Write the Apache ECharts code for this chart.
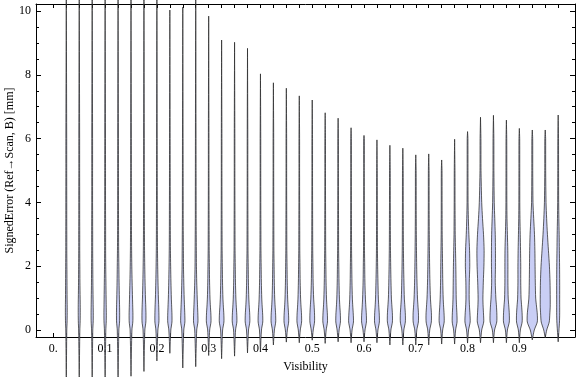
<!DOCTYPE html>
<html>
<head>
<meta charset="utf-8">
<script src="https://cdn.jsdelivr.net/npm/echarts@6/dist/echarts.min.js"></script>
<style>
  html, body { margin: 0; padding: 0; background: #fff; }
  #chart { width: 576px; height: 377px; }
</style>
</head>
<body>
<div id="chart"></div>
<script>
// visibility bin centres (one violin each)
const VIS = [0.025, 0.05, 0.075, 0.1, 0.125, 0.15, 0.175, 0.2, 0.225, 0.25,
  0.275, 0.3, 0.325, 0.35, 0.375, 0.4, 0.425, 0.45, 0.475, 0.5,
  0.525, 0.55, 0.575, 0.6, 0.625, 0.65, 0.675, 0.7, 0.725, 0.75,
  0.775, 0.8, 0.825, 0.85, 0.875, 0.9, 0.925, 0.95, 0.975]

// lowest / highest signed error per bin [mm]
const LOW = [-1.6, -1.6, -1.6, -1.6, -1.6, -1.45, -1.3, -0.97, -0.73, -1.19,
  -1.15, -0.8, -0.9, -0.82, -0.72, -0.68, -0.47, -0.38, -0.4, -0.32,
  -0.42, -0.37, -0.4, -0.37, -0.4, -0.47, -0.47, -0.47, -0.47, -0.44,
  -0.44, -0.41, -0.4, -0.4, -0.4, -0.4, -0.31, -0.25, -0.37]
const HIGH = [10.8, 10.8, 10.8, 10.8, 10.8, 10.8, 10.8, 10.8, 10.03, 10.12,
  10.8, 9.84, 9.09, 9.02, 8.83, 8.03, 7.75, 7.58, 7.34, 7.21,
  6.81, 6.64, 6.34, 6.1, 5.96, 5.79, 5.7, 5.49, 5.52, 5.33,
  5.98, 6.22, 6.67, 6.73, 6.58, 6.32, 6.27, 6.27, 6.74]

// density (violin half width) read at these error levels
const LEVELS = [0, 0.25, 0.5, 0.75, 1, 1.5, 2, 2.5, 3, 3.5, 4, 5, 6]
const DENS = [
  [0.5, 0.8, 0.9, 0.9, 0.8, 0.7, 0.6, 0.5, 0.5, 0.45, 0.45, 0.4, 0.4],
  [0.6, 0.9, 1.0, 1.0, 0.9, 0.7, 0.6, 0.5, 0.5, 0.45, 0.45, 0.4, 0.4],
  [0.6, 1.0, 1.1, 1.0, 0.9, 0.7, 0.6, 0.5, 0.5, 0.45, 0.4, 0.4, 0.4],
  [0.7, 1.1, 1.2, 1.1, 1.0, 0.8, 0.6, 0.5, 0.5, 0.45, 0.4, 0.4, 0.35],
  [0.8, 1.5, 1.6, 1.5, 1.3, 1.0, 0.8, 0.6, 0.5, 0.45, 0.4, 0.4, 0.35],
  [0.9, 1.8, 1.9, 1.7, 1.5, 1.1, 0.8, 0.6, 0.5, 0.45, 0.4, 0.35, 0.35],
  [0.9, 1.9, 2.0, 1.8, 1.5, 1.1, 0.8, 0.6, 0.5, 0.45, 0.4, 0.35, 0.35],
  [1.0, 2.0, 2.0, 1.8, 1.5, 1.1, 0.8, 0.6, 0.5, 0.45, 0.4, 0.35, 0.3],
  [1.0, 2.1, 2.1, 1.8, 1.5, 1.1, 0.8, 0.6, 0.5, 0.45, 0.4, 0.35, 0.3],
  [1.0, 2.1, 2.0, 1.7, 1.4, 1.0, 0.7, 0.6, 0.5, 0.4, 0.4, 0.35, 0.3],
  [1.0, 2.2, 2.1, 1.8, 1.5, 1.0, 0.7, 0.6, 0.5, 0.4, 0.4, 0.35, 0.3],
  [1.0, 2.3, 2.2, 1.7, 1.3, 0.9, 0.7, 0.5, 0.45, 0.4, 0.35, 0.3, 0.3],
  [1.0, 2.3, 2.2, 1.7, 1.3, 0.9, 0.7, 0.5, 0.45, 0.4, 0.35, 0.3, 0.3],
  [1.0, 2.3, 2.2, 1.7, 1.3, 0.9, 0.7, 0.5, 0.45, 0.4, 0.35, 0.3, 0.3],
  [1.0, 2.3, 2.2, 1.7, 1.3, 0.9, 0.7, 0.5, 0.45, 0.4, 0.35, 0.3, 0.3],
  [1.0, 2.3, 2.2, 1.7, 1.3, 0.9, 0.7, 0.5, 0.45, 0.4, 0.35, 0.3, 0.3],
  [1.0, 2.3, 2.2, 1.7, 1.3, 0.9, 0.7, 0.5, 0.45, 0.4, 0.35, 0.3, 0.3],
  [1.0, 2.3, 2.2, 1.7, 1.3, 0.9, 0.7, 0.5, 0.45, 0.4, 0.35, 0.3, 0.3],
  [1.0, 2.3, 2.2, 1.7, 1.3, 0.9, 0.7, 0.5, 0.45, 0.4, 0.35, 0.3, 0.3],
  [1.0, 2.3, 2.3, 1.9, 1.4, 0.9, 0.7, 0.5, 0.45, 0.4, 0.35, 0.3, 0.3],
  [1.0, 2.3, 2.2, 1.7, 1.3, 0.9, 0.7, 0.5, 0.45, 0.4, 0.35, 0.3, 0.3],
  [1.0, 2.3, 2.2, 1.7, 1.3, 0.9, 0.7, 0.5, 0.45, 0.4, 0.35, 0.3, 0.3],
  [1.0, 2.4, 2.2, 1.7, 1.3, 0.9, 0.7, 0.5, 0.45, 0.4, 0.35, 0.3, 0.3],
  [1.0, 2.4, 2.3, 1.8, 1.4, 0.9, 0.7, 0.5, 0.45, 0.4, 0.35, 0.3, 0.3],
  [1.0, 2.4, 2.3, 1.8, 1.4, 1.0, 0.7, 0.5, 0.45, 0.4, 0.35, 0.3, 0.3],
  [1.0, 2.5, 2.5, 2.0, 1.5, 1.1, 0.8, 0.6, 0.5, 0.45, 0.4, 0.35, 0.3],
  [1.0, 2.5, 2.5, 2.0, 1.5, 1.1, 0.8, 0.6, 0.5, 0.45, 0.4, 0.35, 0.3],
  [1.0, 2.6, 2.7, 2.2, 1.7, 1.2, 0.9, 0.7, 0.55, 0.45, 0.4, 0.35, 0.3],
  [1.0, 2.6, 2.7, 2.2, 1.7, 1.2, 0.9, 0.7, 0.55, 0.45, 0.4, 0.35, 0.3],
  [1.0, 2.5, 2.4, 1.9, 1.5, 1.1, 0.9, 0.7, 0.5, 0.45, 0.4, 0.35, 0.3],
  [1.0, 2.4, 2.3, 1.9, 1.6, 1.4, 1.2, 0.9, 0.6, 0.5, 0.4, 0.35, 0.3],
  [1.0, 2.6, 2.4, 1.9, 1.6, 1.7, 2.2, 2.0, 1.3, 0.8, 0.5, 0.4, 0.35],
  [1.2, 3.2, 3.0, 2.6, 2.4, 2.8, 3.4, 3.6, 3.0, 2.0, 1.2, 0.5, 0.4],
  [1.1, 3.3, 3.4, 3.0, 2.4, 1.8, 2.0, 2.0, 1.8, 1.3, 0.8, 0.45, 0.4],
  [1.0, 2.9, 2.9, 2.4, 1.8, 1.5, 1.5, 1.4, 1.0, 0.6, 0.45, 0.4, 0.35],
  [1.0, 2.8, 2.8, 2.3, 1.7, 1.4, 1.4, 1.2, 0.9, 0.6, 0.45, 0.4, 0.35],
  [2.0, 5.0, 5.0, 4.2, 3.4, 3.0, 2.8, 2.6, 2.2, 1.4, 0.7, 0.45, 0.4],
  [1.5, 4.0, 4.6, 5.0, 5.0, 4.8, 4.2, 3.2, 2.2, 1.4, 0.8, 0.45, 0.4],
  [0.8, 1.3, 1.5, 1.5, 1.5, 1.5, 1.4, 1.2, 1.0, 0.7, 0.5, 0.4, 0.35]
]

// axis ticks and labels
const X_TICKS = [0].concat(VIS)
const X_LABELS = [0, 0.1, 0.2, 0.3, 0.4, 0.5, 0.6, 0.7, 0.8, 0.9]
const Y_LABELS = [0, 2, 4, 6, 8, 10]
const Y_MINOR = [0, 0.5, 1, 1.5, 2, 2.5, 3, 3.5, 4, 4.5, 5, 5.5, 6, 6.5, 7, 7.5, 8, 8.5, 9, 9.5, 10]

const X_MIN = -0.0335
const X_MAX = 1.0075
const Y_MIN = -0.22
const Y_MAX = 10.22
const WIDTH_UNIT = 0.00193 // visibility units per density unit (about 1px)

const font = { fontFamily: 'Liberation Serif', fontSize: 12, color: '#000' }

const chart = echarts.init(document.getElementById('chart'))

function renderViolin(params, api) {
  const i = params.dataIndex
  const x = VIS[i]
  const lo = LOW[i]
  const hi = HIGH[i]
  const pts = [[lo, 0]]
  LEVELS.forEach((lv, j) => {
    if (lv > lo && lv < hi) pts.push([lv, DENS[i][j]])
  })
  pts.push([hi, 0])
  const left = pts.map(p => api.coord([x - p[1] * WIDTH_UNIT, p[0]]))
  const right = pts.map(p => api.coord([x + p[1] * WIDTH_UNIT, p[0]])).reverse()
  return {
    type: 'polygon',
    shape: { points: left.concat(right), smooth: 0.25 },
    style: {
      fill: '#c9cef5',
      stroke: 'rgba(40,40,40,0.75)',
      lineWidth: 1
    }
  }
}

// one plain axis, only ticks
function tickAxis(pos, values, len, line) {
  return {
    type: 'value',
    position: pos,
    offset: 0,
    min: (pos === 'top' || pos === 'bottom') ? X_MIN : Y_MIN,
    max: (pos === 'top' || pos === 'bottom') ? X_MAX : Y_MAX,
    axisLine: { show: line, onZero: false, lineStyle: { color: '#000', width: 1 } },
    axisTick: { show: true, inside: true, length: len, customValues: values, lineStyle: { color: '#000' } },
    axisLabel: { show: false },
    splitLine: { show: false }
  }
}

const option = {
  animation: false,
  grid: { left: 36, right: 1, top: 4, bottom: 40, containLabel: false, outerBoundsMode: 'none' },
  xAxis: [
    {
      type: 'value',
      position: 'bottom',
      offset: 0,
      min: X_MIN,
      max: X_MAX,
      name: 'Visibility',
      nameLocation: 'middle',
      nameGap: 24,
      nameMoveOverlap: false,
      nameTextStyle: font,
      axisLine: { show: true, onZero: false, lineStyle: { color: '#000', width: 1 } },
      axisTick: { show: true, inside: true, length: 4, customValues: X_TICKS, lineStyle: { color: '#000' } },
      axisLabel: Object.assign({
        customValues: X_LABELS,
        margin: 6,
        formatter: v => (v === 0 ? '0.' : v.toFixed(1))
      }, font),
      splitLine: { show: false }
    },
    tickAxis('top', X_TICKS, 4, true)
  ],
  yAxis: [
    {
      type: 'value',
      position: 'left',
      offset: 0,
      min: Y_MIN,
      max: Y_MAX,
      name: 'SignedError (Ref\u2192Scan, B) [mm]',
      nameLocation: 'middle',
      nameGap: 20,
      nameMoveOverlap: false,
      nameTextStyle: font,
      axisLine: { show: true, onZero: false, lineStyle: { color: '#000', width: 1 } },
      axisTick: { show: true, inside: true, length: 5, customValues: Y_LABELS, lineStyle: { color: '#000' } },
      axisLabel: Object.assign({ customValues: Y_LABELS, margin: 5 }, font),
      splitLine: { show: false }
    },
    tickAxis('left', Y_MINOR, 3, false),
    tickAxis('right', Y_LABELS, 5, true),
    tickAxis('right', Y_MINOR, 3, false)
  ],
  series: [
    {
      type: 'custom',
      xAxisIndex: 0,
      yAxisIndex: 0,
      clip: false,
      renderItem: renderViolin,
      data: VIS.map((v, i) => [v, LOW[i], HIGH[i]]),
      encode: { x: 0, y: [1, 2] }
    }
  ]
}

chart.setOption(option)
</script>
</body>
</html>
